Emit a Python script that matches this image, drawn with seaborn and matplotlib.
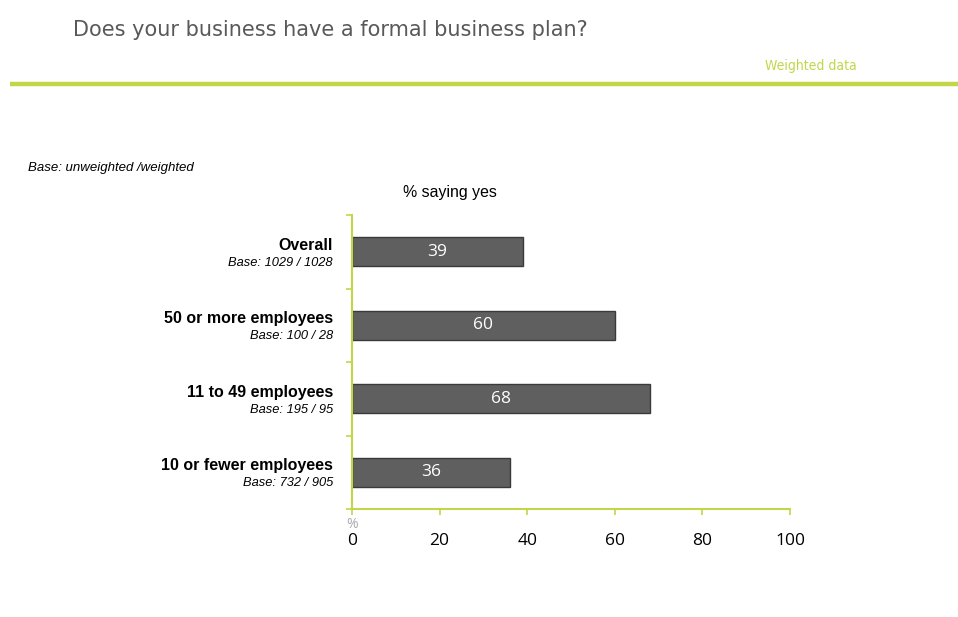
"""
Formal business plan chart - recreated with seaborn
"""

import pandas as pd
import matplotlib.pyplot as plt
import matplotlib.transforms as mtransforms
import seaborn as sns

# Data
categories = ['Overall', '50 or more employees', '11 to 49 employees', '10 or fewer employees']
bases = ['Base: 1029 / 1028', 'Base: 100 / 28', 'Base: 195 / 95', 'Base: 732 / 905']
pct_yes = [39, 60, 68, 36]
x_ticks = [0, 20, 40, 60, 80, 100]

GREEN = '#c3d64a'
BAR = '#5f5f5f'
GREY_TXT = '#595959'

sns.set_style("white")
plt.rcParams['font.family'] = ['Liberation Sans', 'DejaVu Sans']

df = pd.DataFrame({'category': categories, 'pct': pct_yes})

fig = plt.figure(figsize=(9.58, 6.17), dpi=100)
ax = fig.add_axes([0.3674, 0.175, 0.4572, 0.4765])

sns.barplot(data=df, x='pct', y='category', orient='h', color=BAR,
            width=0.4, edgecolor='#3a3a3a', linewidth=1.0, saturation=1, ax=ax)

ax.set_xlim(0, 100)
ax.set_ylim(3.5, -0.5)
ax.set_xlabel('')
ax.set_ylabel('')

# boundary ticks on y, labels drawn as text
ax.set_yticks([-0.5, 0.5, 1.5, 2.5, 3.5])
ax.set_yticklabels([])
ax.set_xticks(x_ticks)
ax.set_xticklabels([str(t) for t in x_ticks],
                   fontdict={'family': ['Open Sans', 'DejaVu Sans'], 'size': 12.5})
ax.tick_params(axis='both', colors=GREEN, length=4, width=1.2, direction='out',
               bottom=True, left=True)
ax.tick_params(axis='x', pad=13, labelcolor='black')

for side in ['top', 'right']:
    ax.spines[side].set_visible(False)
for side in ['left', 'bottom']:
    ax.spines[side].set_color(GREEN)
    ax.spines[side].set_linewidth(1.5)

# value labels
for i, v in enumerate(pct_yes):
    ax.text(v / 2, i, str(v), ha='center', va='center', color='white',
            fontsize=12.5, family=['Open Sans', 'DejaVu Sans'])

# category labels
trans = mtransforms.blended_transform_factory(fig.transFigure, ax.transData)
for i, (cat, base) in enumerate(zip(categories, bases)):
    ax.text(333 / 958, i - 0.09, cat, transform=trans, ha='right', va='center',
            fontsize=11.5, fontweight='bold', color='black')
    ax.text(333 / 958, i + 0.15, base, transform=trans, ha='right', va='center',
            fontsize=9.3, style='italic', color='black')

# "%" axis unit
fig.text(352 / 958, 1 - 524 / 617, '%', ha='center', va='center',
         fontsize=10, color='#aaaaaa', family=['Open Sans', 'DejaVu Sans'])

# header
fig.text(73 / 958, 1 - 36 / 617, 'Does your business have a formal business plan?',
         ha='left', va='baseline', fontsize=15, color=GREY_TXT, family=['DejaVu Sans'])
fig.text(857 / 958, 1 - 66 / 617, 'Weighted data', ha='right', va='center',
         fontsize=10, color=GREEN, fontstretch='condensed', family=['DejaVu Sans'])
fig.add_artist(plt.Line2D([10 / 958, 1], [1 - 83.5 / 617, 1 - 83.5 / 617],
                          transform=fig.transFigure, color=GREEN, linewidth=3.2,
                          solid_capstyle='butt'))

fig.text(28 / 958, 1 - 168 / 617, 'Base: unweighted /weighted', ha='left', va='center',
         fontsize=9.5, style='italic', color='black')
fig.text(450 / 958, 1 - 192 / 617, '% saying yes', ha='center', va='center',
         fontsize=11.4, color='black')

plt.savefig('out.png', dpi=100)
plt.close()
